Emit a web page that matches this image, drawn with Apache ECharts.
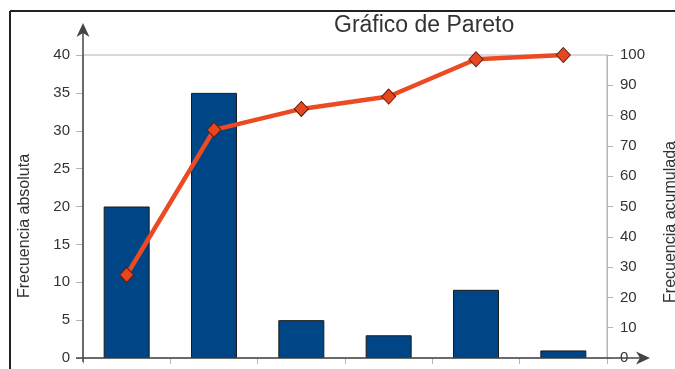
<!DOCTYPE html>
<html>
<head>
<meta charset="utf-8">
<title>Gráfico de Pareto</title>
<script src="https://cdn.jsdelivr.net/npm/echarts@6/dist/echarts.min.js"></script>
<style>
  html, body { margin: 0; padding: 0; background: #ffffff; }
  #chart { width: 675px; height: 369px; }
</style>
</head>
<body>
<div id="chart"></div>
<script>
// Categories (their labels sit below the visible area)
const categories = ['Causa 1', 'Causa 2', 'Causa 3', 'Causa 4', 'Causa 5', 'Causa 6'];
// Absolute frequency per category (left axis)
const frecuenciaAbsoluta = [20, 35, 5, 3, 9, 1];
// Cumulative frequency in percent (right axis)
const frecuenciaAcumulada = [27.4, 75.3, 82.2, 86.3, 98.6, 100];
// Axis ranges / tick steps
const leftAxisMax = 40, leftAxisStep = 5;
const rightAxisMax = 100, rightAxisStep = 10;

const W = 675, H = 369;
const grid = { left: 83, right: 68, top: 55, bottom: 11 };
const plotL = grid.left, plotR = W - grid.right, plotT = grid.top, plotB = H - grid.bottom;

const FONT = '"Liberation Sans", Arial, sans-serif';
const AXIS_DARK = '#454545';
const AXIS_GREY = '#b4b4b4';

const chart = echarts.init(document.getElementById('chart'), null, { renderer: 'canvas' });

// arrowhead polygon: tip, two barbs and a notch
function arrowUp(x, tipY) {
  return [[x, tipY], [x + 6.5, tipY + 14], [x, tipY + 10], [x - 6.5, tipY + 14]];
}
function arrowRight(tipX, y) {
  return [[tipX, y], [tipX - 14, y - 6.5], [tipX - 10, y], [tipX - 14, y + 6.5]];
}

const option = {
  backgroundColor: '#ffffff',
  animation: false,
  textStyle: { fontFamily: FONT },
  title: {
    text: 'Gráfico de Pareto',
    left: 329,
    top: 9,
    textStyle: { fontFamily: FONT, fontSize: 23, fontWeight: 'normal', color: '#333333' }
  },
  grid: {
    left: grid.left, right: grid.right, top: grid.top, bottom: grid.bottom,
    show: true, borderColor: AXIS_GREY, borderWidth: 1, backgroundColor: 'transparent',
    containLabel: false
  },
  xAxis: {
    type: 'category',
    data: categories,
    boundaryGap: true,
    axisLine: { show: false },
    axisTick: { show: true, inside: false, length: 6, lineStyle: { color: AXIS_GREY } },
    axisLabel: { show: false },
    splitLine: { show: false }
  },
  yAxis: [
    {
      type: 'value',
      min: 0, max: leftAxisMax, interval: leftAxisStep,
      position: 'left',
      axisLine: { show: false },
      axisTick: { show: true, length: 7, lineStyle: { color: AXIS_GREY } },
      axisLabel: { margin: 13, color: '#333333', fontSize: 15, fontFamily: FONT },
      splitLine: { show: false }
    },
    {
      type: 'value',
      min: 0, max: rightAxisMax, interval: rightAxisStep,
      position: 'right',
      axisLine: { show: true, lineStyle: { color: AXIS_GREY, width: 1 } },
      axisTick: { show: true, length: 6, lineStyle: { color: AXIS_GREY } },
      axisLabel: { margin: 13, color: '#333333', fontSize: 15, fontFamily: FONT },
      splitLine: { show: false }
    }
  ],
  series: [
    {
      name: 'Frecuencia absoluta',
      type: 'bar',
      yAxisIndex: 0,
      data: frecuenciaAbsoluta,
      barWidth: 46,
      itemStyle: { color: '#004586', borderColor: '#1a1a1a', borderWidth: 1 },
      z: 2
    },
    {
      name: 'Frecuencia acumulada',
      type: 'line',
      yAxisIndex: 1,
      data: frecuenciaAcumulada,
      symbol: 'diamond',
      symbolSize: [14, 15],
      lineStyle: { color: '#ec4a22', width: 4.5 },
      itemStyle: { color: '#e8461e', borderColor: '#5a2010', borderWidth: 1 },
      z: 5
    }
  ],
  graphic: [
    // outer frame (top and left edges)
    { type: 'line', shape: { x1: 10, y1: 11, x2: W, y2: 11 }, style: { stroke: '#222222', lineWidth: 2 }, z: 10 },
    { type: 'line', shape: { x1: 10, y1: 11, x2: 10, y2: H }, style: { stroke: '#222222', lineWidth: 2 }, z: 10 },
    // left vertical axis with arrow
    { type: 'line', shape: { x1: plotL, y1: plotB + 4, x2: plotL, y2: 30 }, style: { stroke: AXIS_DARK, lineWidth: 1.5 }, z: 10 },
    { type: 'polygon', shape: { points: arrowUp(plotL, 23) }, style: { fill: AXIS_DARK }, z: 10 },
    // horizontal axis with arrow
    { type: 'line', shape: { x1: 76, y1: plotB, x2: 645, y2: plotB }, style: { stroke: AXIS_DARK, lineWidth: 1.5 }, z: 10 },
    { type: 'polygon', shape: { points: arrowRight(650, plotB) }, style: { fill: AXIS_DARK }, z: 10 },
    // axis titles
    {
      type: 'text', x: 25, y: 226, rotation: Math.PI / 2,
      style: { text: 'Frecuencia absoluta', fontFamily: FONT, fontSize: 16, fill: '#333333', align: 'center', verticalAlign: 'middle' },
      z: 10
    },
    {
      type: 'text', x: 671, y: 222, rotation: Math.PI / 2,
      style: { text: 'Frecuencia acumulada', fontFamily: FONT, fontSize: 16, fill: '#333333', align: 'center', verticalAlign: 'middle' },
      z: 10
    }
  ]
};

chart.setOption(option);
</script>
</body>
</html>
